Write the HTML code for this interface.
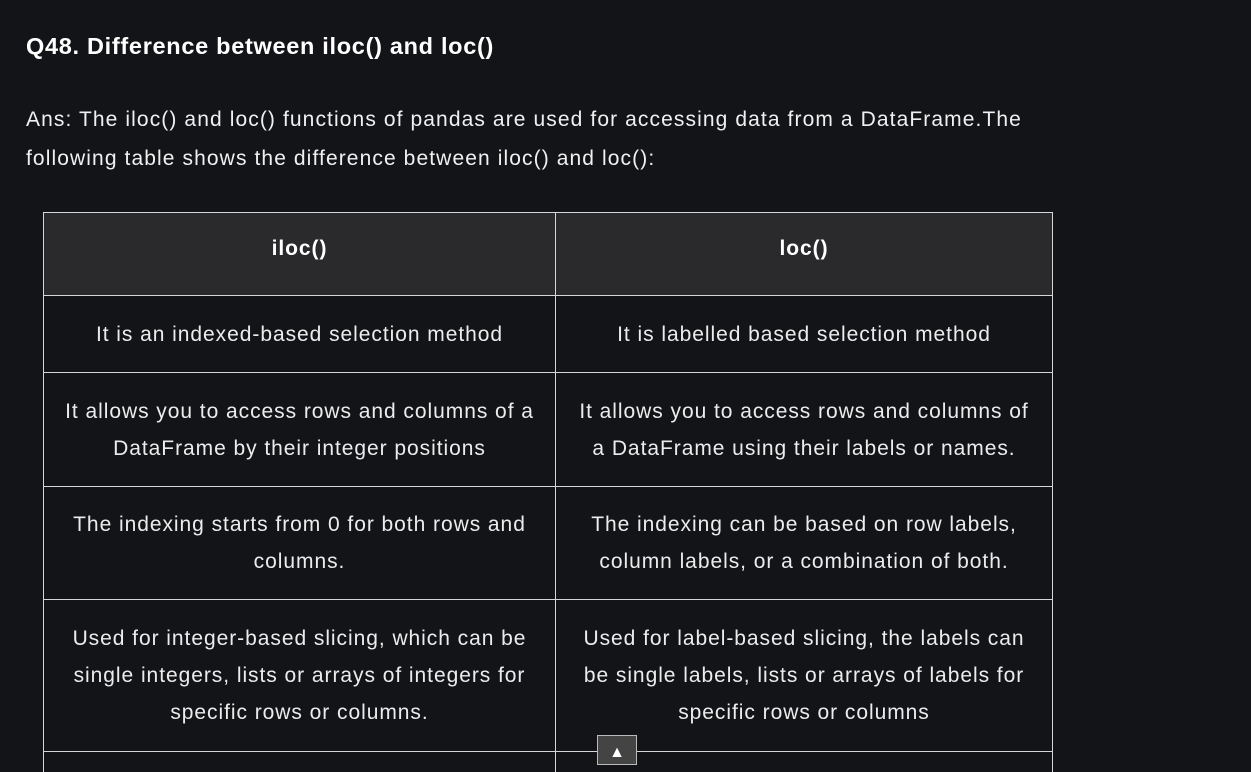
<!DOCTYPE html>
<html><head><style>
body{margin:0;width:1251px;height:764px;background:#131417;color:#e8e8e8;font-family:"Liberation Sans",sans-serif;overflow:hidden;position:relative}
.a{position:absolute}
h1{position:absolute;left:26px;top:33px;margin:0;font-size:23.5px;letter-spacing:0.7px;font-weight:bold;color:#fff;white-space:nowrap}
.p{left:26px;top:100px;font-size:21px;letter-spacing:1.1px;line-height:39px;width:1100px;color:#f0f0f0;white-space:nowrap}
.hl{position:absolute;height:1px;background:#d6d6d6;left:43px;width:1010px}
.vl{position:absolute;width:1px;background:#d6d6d6;top:212px;height:560px}
.c{position:absolute;display:flex;align-items:center;justify-content:center;text-align:center;font-size:21px;letter-spacing:0.95px;line-height:37px;color:#ececec;white-space:nowrap}
.l{left:44px;width:511px}.r{left:556px;width:496px}
</style></head><body>
<h1>Q48. Difference between iloc() and loc()</h1>
<div class="a p">Ans: The iloc() and loc() functions of pandas are used for accessing data from a DataFrame.The<br>following table shows the difference between iloc() and loc():</div>
<div class="a" style="left:43px;top:212px;width:1010px;height:83px;background:#2a2a2d"></div>
<div class="hl" style="top:212px"></div><div class="hl" style="top:295px"></div><div class="hl" style="top:372px"></div><div class="hl" style="top:486px"></div><div class="hl" style="top:599px"></div><div class="hl" style="top:751px"></div>
<div class="vl" style="left:43px"></div><div class="vl" style="left:555px"></div><div class="vl" style="left:1052px"></div>
<div class="c l" style="top:213px;height:70px;font-weight:bold;color:#fff">iloc()</div>
<div class="c r" style="top:213px;height:70px;font-weight:bold;color:#fff">loc()</div>
<div class="c l" style="top:296px;height:76px">It is an indexed-based selection method</div>
<div class="c r" style="top:296px;height:76px">It is labelled based selection method</div>
<div class="c l" style="top:373px;height:113px">It allows you to access rows and columns of a<br>DataFrame by their integer positions</div>
<div class="c r" style="top:373px;height:113px">It allows you to access rows and columns of<br>a DataFrame using their labels or names.</div>
<div class="c l" style="top:487px;height:112px">The indexing starts from 0 for both rows and<br>columns.</div>
<div class="c r" style="top:487px;height:112px">The indexing can be based on row labels,<br>column labels, or a combination of both.</div>
<div class="c l" style="top:600px;height:151px">Used for integer-based slicing, which can be<br>single integers, lists or arrays of integers for<br>specific rows or columns.</div>
<div class="c r" style="top:600px;height:151px">Used for label-based slicing, the labels can<br>be single labels, lists or arrays of labels for<br>specific rows or columns</div>
<div class="a" style="left:597px;top:735px;width:40px;height:30px;background:#444;border:1px solid #bbb;box-sizing:border-box;color:#fff;text-align:center;font-size:16px;line-height:34px">▲</div>
</body></html>
